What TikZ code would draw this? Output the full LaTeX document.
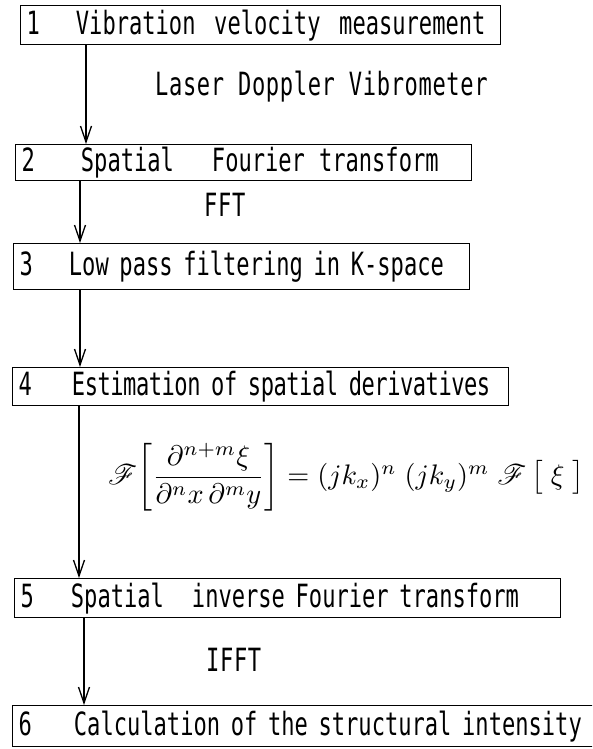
\documentclass[tikz,border=0pt]{standalone}
\usepackage{amsmath}
\usepackage{mathrsfs}
\usepackage{graphicx}
\usepackage{fontspec}
\usepackage{tikz}
\usetikzlibrary{arrows.meta,positioning,calc}
\newfontfamily\gothic{DejaVu Sans Mono}[FakeStretch=0.69]
\tikzset{
  stepbox/.style={draw,line width=1.3pt,anchor=north west,inner xsep=6pt,inner ysep=0pt,
    align=left,font=\gothic\fontsize{32}{36}\selectfont},
  lbl/.style={anchor=west,inner sep=0pt,font=\gothic\fontsize{32}{36}\selectfont\addfontfeature{LetterSpace=2}},
  flow/.style={line width=1.3pt,-{Straight Barb[length=16pt,width=11pt,line width=1.3pt]}}
}

\begin{document}
\begin{tikzpicture}[x=1pt,y=-1pt]
  \useasboundingbox (0,0) rectangle (592,749);
  \clip (0,0) rectangle (592,749);
  % processing steps
  \node[stepbox,text width=468pt,minimum height=39pt] (s1) at (20,5)
    {1\hspace{36pt}Vibration\hspace{8pt} velocity\hspace{8pt} measurement};
  \node[stepbox,text width=444pt,minimum height=36pt] (s2) at (15,144)
    {2\hspace{46pt}Spatial\hspace{38pt}Fourier\hspace{14pt}transform};
  \node[stepbox,text width=444pt,minimum height=46pt] (s3) at (13,243)
    {3\hspace{36pt}Low pass filtering in K-space};
  \node[stepbox,text width=484pt,minimum height=38pt] (s4) at (12,367)
    {4\hspace{40pt}\addfontfeature{LetterSpace=-1.5}Estimation of spatial derivatives};
  \node[stepbox,text width=534pt,minimum height=39pt] (s5) at (14,578)
    {5\hspace{37pt}Spatial\hspace{28pt}inverse Fourier transform};
  \node[stepbox,text width=600pt,minimum height=41pt] (s6) at (12,705)
    {6\hspace{42pt}Calculation of the structural intensity};
  % labels beside the arrows
  \node[lbl] (ldv) at (155,87) {Laser Doppler Vibrometer};
  \node[lbl] (fft) at (204,205) {FFT};
  \node[inner sep=0pt,anchor=west] (eq) at (108,477)
    {\resizebox{476pt}{!}{%
     $\mathscr{F}\!\left[\dfrac{\partial^{n+m}\xi}{\partial^{n}x\,\partial^{m}y}\right]
      = (jk_x)^n\;(jk_y)^m\;\mathscr{F}\,\bigl[\;\xi\;\bigr]$}};
  \node[lbl] (ifft) at (206,660) {IFFT};
  % arrows
  \coordinate (a1) at ($(s1.south west)+(66,0)$);
  \coordinate (a2) at ($(s2.south west)+(65,0)$);
  \coordinate (a3) at ($(s3.south west)+(67,0)$);
  \coordinate (a4) at ($(s4.south west)+(67,0)$);
  \coordinate (a5) at ($(s5.south west)+(70,0)$);
  \draw[flow] (a1) -- (a1 |- s2.north);
  \draw[flow] (a2) -- (a2 |- s3.north);
  \draw[flow] (a3) -- (a3 |- s4.north);
  \draw[flow] (a4) -- (a4 |- s5.north);
  \draw[flow] (a5) -- (a5 |- s6.north);
\end{tikzpicture}
\end{document}
